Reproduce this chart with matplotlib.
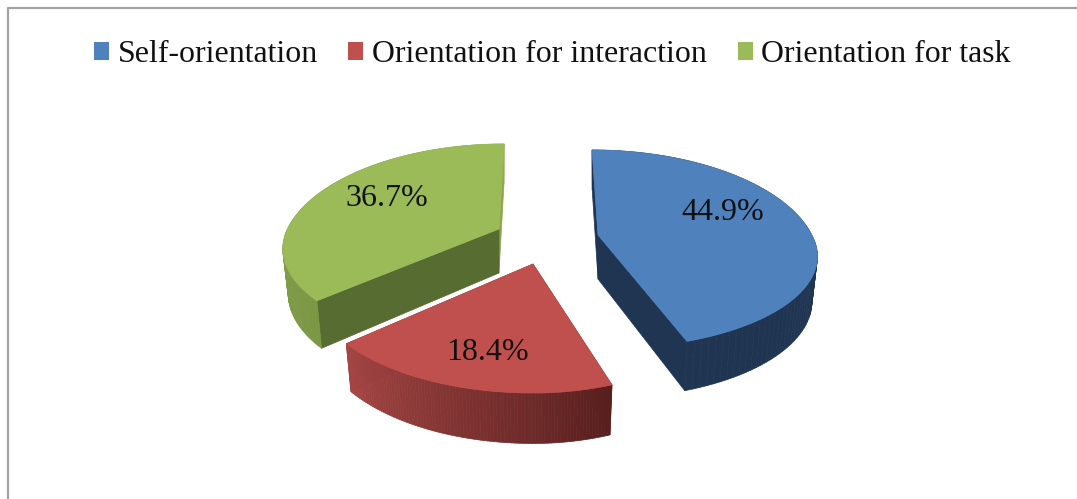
import matplotlib
matplotlib.use('Agg')
import matplotlib.pyplot as plt
import numpy as np
from matplotlib.colors import to_rgb
from matplotlib.patches import Patch

plt.rcParams['font.family'] = ['Liberation Serif', 'DejaVu Serif']

labels = ['Self-orientation', 'Orientation for interaction', 'Orientation for task']
values = [44.9, 18.4, 36.7]
top_colors = ['#4f81bd', '#c0504d', '#9bbb59']
edge_colors = ['#1f3552', '#7a2f2d', '#566c31']
sliver_colors = ['#1f3552', '#7a2f2d', '#8aa64f']
rim_start = ['#1f3552', '#571f1e', '#7b9744']
rim_end = ['#1f3552', '#a54644', '#8fab52']

# where each exploded slice has its tip, in pixels
apex = [(598, 235), (533, 264), (499, 229)]
shear = [0.07, 0.0, -0.06]
low_shear = [0.05, 0.0, 0.0]
scale_right = [0.985, 0.93, 1.0]
scale_left = [1.0, 1.0, 0.975]
scale_low = [0.88, 1.0, 0.9]
dark_at_end = [True, True, False]
label_pos = [(723, 212), (488, 352), (387, 198)]

RX, RY, K = 217, 102.5, 0.2056
BOTTOM_X = 0.975

fig = plt.figure(figsize=(10.77, 4.99), dpi=100)
ax = fig.add_axes([0, 0, 1, 1])
ax.set_xlim(0, 1077)
ax.set_ylim(499, 0)
ax.axis('off')


def rim_xy(t, i):
    # circle seen in perspective, far side is smaller
    u, v = np.sin(t), np.cos(t)
    w = 1 + K * v
    dx = RX * u / w
    dy = -RY * v / w
    dx = np.where(dx > 0, dx * scale_right[i], dx * scale_left[i])
    dx = dx + shear[i] * np.minimum(dy, 0)
    dy = np.where(dy > 0, dy * scale_low[i], dy)
    dx = dx + low_shear[i] * np.maximum(dy, 0)
    return apex[i][0] + dx, apex[i][1] + dy


def depth(y, tip):
    return 44 + 0.05 * (y - tip[1])


def low_x(x, tip):
    return tip[0] + (x - tip[0]) * BOTTOM_X


def mix(c1, c2, f):
    c1, c2 = np.array(to_rgb(c1)), np.array(to_rgb(c2))
    return tuple(c1 + (c2 - c1) * f)


fr = np.array(values) / np.sum(values)
bounds = np.concatenate([[0], np.cumsum(fr)]) * 2 * np.pi

for i in range(len(values)):
    tip = apex[i]
    t = np.linspace(bounds[i], bounds[i + 1], 90)
    x, y = rim_xy(t, i)
    d = depth(y, tip)
    d0 = depth(tip[1], tip)
    xl = low_x(x, tip)

    # straight walls
    dark, light = (-1, 0) if dark_at_end[i] else (0, -1)
    ax.fill([tip[0], x[light], xl[light], tip[0]], [tip[1], y[light], y[light] + d[light], tip[1] + d0],
            color=sliver_colors[i], lw=0.5, zorder=2)
    ax.fill([tip[0], x[dark], xl[dark], tip[0]], [tip[1], y[dark], y[dark] + d[dark], tip[1] + d0],
            color=edge_colors[i], lw=0.5, zorder=2)

    # outer wall in small strips so the shading can change
    for j in range(len(t) - 1):
        c = mix(rim_start[i], rim_end[i], j / (len(t) - 2))
        ax.fill([x[j], x[j + 1], xl[j + 1], xl[j]],
                [y[j], y[j + 1], y[j + 1] + d[j + 1], y[j] + d[j]],
                color=c, lw=0.5, zorder=3)

    ax.fill(np.r_[tip[0], x], np.r_[tip[1], y], color=top_colors[i], lw=0.5, zorder=4)
    ax.text(label_pos[i][0], label_pos[i][1], '%.1f%%' % values[i], fontsize=23,
            color='#111111', ha='center', va='center', zorder=5)

# chart frame, only top and left are inside the crop
ax.plot([8, 8, 1077], [499, 8, 8], color='#a3a3a3', lw=1.6, zorder=1)

handles = [Patch(facecolor=c, edgecolor='none') for c in top_colors]
ax.legend(handles, labels, ncol=3, loc='center', bbox_to_anchor=(552.5 / 1077, 1 - 54.5 / 499),
          frameon=False, fontsize=22.95, handlelength=0.47, handleheight=0.5,
          handletextpad=0.28, columnspacing=0.95, labelcolor='#111111')

fig.savefig('out.png', dpi=100)
